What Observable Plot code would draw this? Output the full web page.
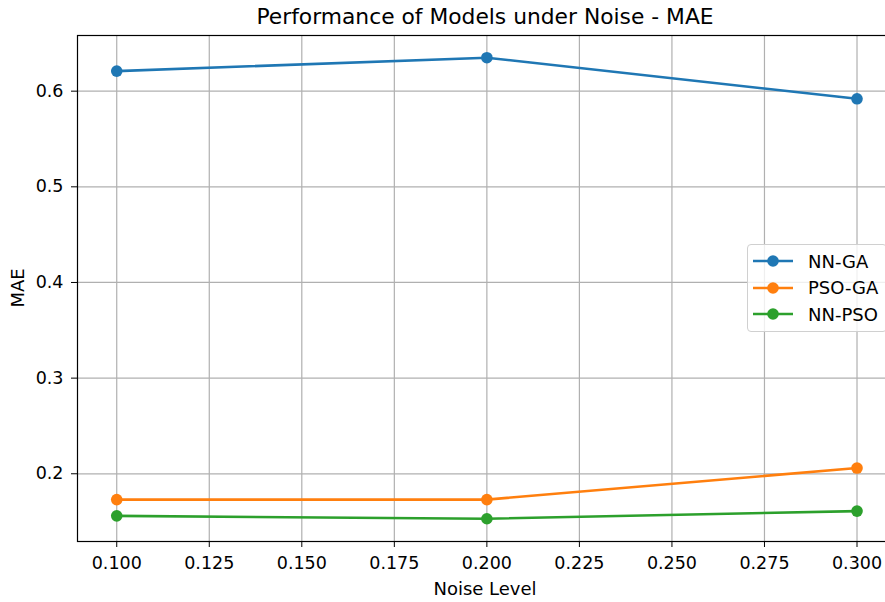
<!DOCTYPE html>
<html><head><meta charset="utf-8">
<script src="https://cdn.jsdelivr.net/npm/d3@7"></script>
<script src="https://cdn.jsdelivr.net/npm/@observablehq/plot@0.6"></script>
<style>
html,body{margin:0;padding:0;background:#fff;overflow:hidden;}
#wrap{position:relative;width:900px;height:602px;font-family:"DejaVu Sans",sans-serif;color:#000;}
.t{position:absolute;white-space:nowrap;line-height:1;}
#legend{position:absolute;left:747px;top:244px;width:140px;height:88px;border:1px solid #d0d0d0;border-radius:4px;background:rgba(255,255,255,0.8);box-sizing:border-box;}
.row{position:absolute;left:4px;height:20px;display:flex;align-items:center;font-size:18px;}
.row svg{margin-right:14px;}
</style></head><body><div id="wrap"></div>
<script>
const titleText = "Performance of Models under Noise - MAE";
const xLabel = "Noise Level";
const yLabel = "MAE";
const noiseLevels = [0.1, 0.2, 0.3];
const seriesNames = ["NN-GA", "PSO-GA", "NN-PSO"];
const seriesColors = ["#1f77b4", "#ff7f0e", "#2ca02c"];
const nnGA = [0.621, 0.635, 0.592];
const psoGA = [0.173, 0.173, 0.206];
const nnPSO = [0.156, 0.153, 0.161];
const xTicks = [0.1, 0.125, 0.15, 0.175, 0.2, 0.225, 0.25, 0.275, 0.3];
const yTicks = [0.2, 0.3, 0.4, 0.5, 0.6];

const seriesValues = [nnGA, psoGA, nnPSO];
const rows = seriesNames.flatMap((name, i) =>
  noiseLevels.map((x, j) => ({series: name, noise: x, mae: seriesValues[i][j]})));

const wrap = document.getElementById("wrap");

const chart = Plot.plot({
  width: 900,
  height: 602,
  marginLeft: 77,
  marginRight: 5,
  marginTop: 35,
  marginBottom: 61,
  style: {fontSize: "17.5px", fontFamily: "DejaVu Sans, sans-serif", color: "#000", background: "white", overflow: "visible"},
  x: {domain: [0.0894, 0.3104], ticks: xTicks, tickFormat: d3.format(".3f"), tickSize: 6, tickPadding: 9, label: null},
  y: {domain: [0.1292, 0.6582], ticks: yTicks, tickFormat: d3.format(".1f"), tickSize: 6, tickPadding: 8, label: null},
  color: {domain: seriesNames, range: seriesColors},
  marks: [
    Plot.ruleX(xTicks, {stroke: "#b0b0b0", strokeWidth: 1.2}),
    Plot.ruleY(yTicks, {stroke: "#b0b0b0", strokeWidth: 1.2}),
    Plot.line(rows, {x: "noise", y: "mae", z: "series", stroke: "series", strokeWidth: 2.6}),
    Plot.dot(rows, {x: "noise", y: "mae", fill: "series", r: 5.8}),
    Plot.frame({stroke: "black", strokeWidth: 1.2})
  ]
});
chart.style.position = "absolute";
chart.style.left = "0px";
chart.style.top = "0px";
wrap.appendChild(chart);

function addText(txt, css) {
  const d = document.createElement("div");
  d.className = "t";
  d.textContent = txt;
  Object.assign(d.style, css);
  wrap.appendChild(d);
  return d;
}
addText(titleText, {left: "485px", top: "6px", fontSize: "21.8px", transform: "translateX(-50%)"});
addText(xLabel, {left: "485px", top: "579.5px", fontSize: "18px", transform: "translateX(-50%)"});
addText(yLabel, {left: "18px", top: "288px", fontSize: "18px", transform: "translate(-50%,-50%) rotate(-90deg)"});

const legend = document.createElement("div");
legend.id = "legend";
seriesNames.forEach((name, i) => {
  const r = document.createElement("div");
  r.className = "row";
  r.style.top = (6 + i * 26.7) + "px";
  const ns = "http://www.w3.org/2000/svg";
  const s = document.createElementNS(ns, "svg");
  s.setAttribute("width", 42); s.setAttribute("height", 14);
  const l = document.createElementNS(ns, "line");
  l.setAttribute("x1", 1); l.setAttribute("x2", 41); l.setAttribute("y1", 7); l.setAttribute("y2", 7);
  l.setAttribute("stroke", seriesColors[i]); l.setAttribute("stroke-width", 2.6);
  const c = document.createElementNS(ns, "circle");
  c.setAttribute("cx", 21); c.setAttribute("cy", 7); c.setAttribute("r", 5.8); c.setAttribute("fill", seriesColors[i]);
  s.appendChild(l); s.appendChild(c);
  r.appendChild(s);
  const sp = document.createElement("span");
  sp.textContent = name;
  r.appendChild(sp);
  legend.appendChild(r);
});
wrap.appendChild(legend);
</script></body></html>
